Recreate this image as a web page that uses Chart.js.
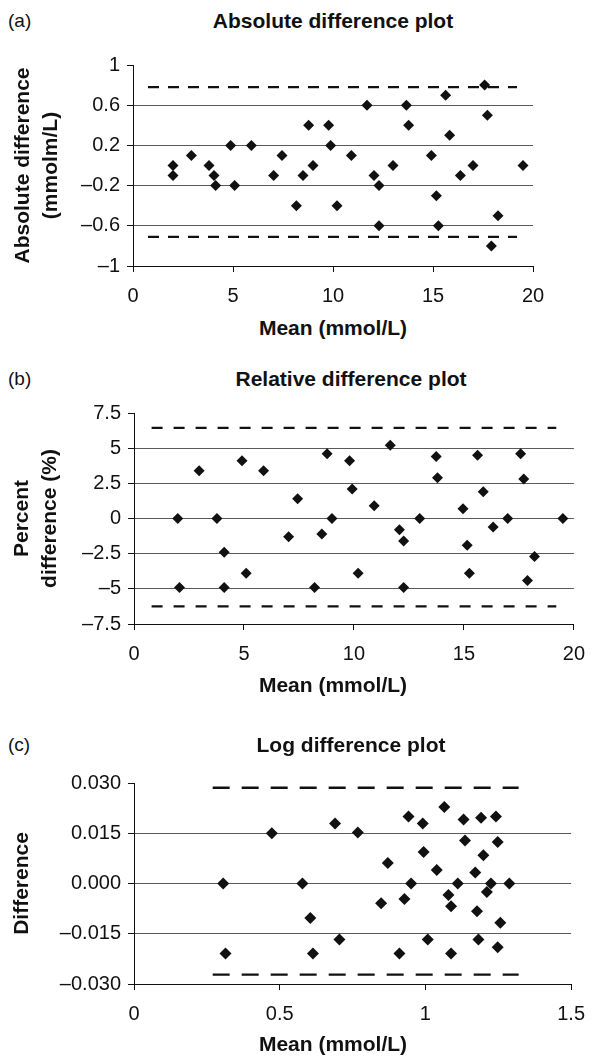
<!DOCTYPE html>
<html>
<head>
<meta charset="utf-8">
<script src="https://cdn.jsdelivr.net/npm/chart.js@4.4.0/dist/chart.umd.min.js"></script>
<style>
  body { margin: 0; background: #fff; width: 597px; height: 1056px; position: relative; overflow: hidden;
         font-family: "Liberation Sans", Arial, sans-serif; color: #111; }
  canvas { position: absolute; left: 0; }
  .tag { position: absolute; left: 8px; font-size: 19px; transform: translateY(-50%); }
  .ttl { position: absolute; font-size: 21px; font-weight: bold; white-space: nowrap; transform: translate(-50%, -50%); }
</style>
</head>
<body>

<div class="tag" style="top:21px">(a)</div>
<div class="ttl" style="top:21px;left:333px">Absolute difference plot</div>
<canvas id="absChart"></canvas>
<div class="ttl" style="top:328px;left:333px">Mean (mmol/L)</div>

<div class="tag" style="top:379px">(b)</div>
<div class="ttl" style="top:379px;left:351px">Relative difference plot</div>
<canvas id="relChart"></canvas>
<div class="ttl" style="top:685px;left:333px">Mean (mmol/L)</div>

<div class="tag" style="top:745px">(c)</div>
<div class="ttl" style="top:745px;left:351px">Log difference plot</div>
<canvas id="logChart"></canvas>
<div class="ttl" style="top:1044px;left:333px">Mean (mmol/L)</div>

<script>
// (a) absolute difference
const absMean = [2.0, 2.0, 2.92, 3.8, 4.05, 4.13, 4.88, 5.08, 5.92, 7.03, 7.45, 8.17, 8.5, 8.78, 9.0, 9.78, 9.88,
                 10.2, 10.92, 11.7, 12.05, 12.3, 12.3, 13.0, 13.67, 13.78, 14.92, 15.17, 15.27, 15.63, 15.83,
                 16.37, 17.0, 17.58, 17.72, 17.92, 18.25, 19.5];
const absDiff = [0.0, -0.1, 0.1, 0.0, -0.1, -0.2, 0.2, -0.2, 0.2, -0.1, 0.1, -0.4, -0.1, 0.4, 0.0, 0.4, 0.2,
                 -0.4, 0.1, 0.6, -0.1, -0.2, -0.6, 0.0, 0.6, 0.4, 0.1, -0.3, -0.6, 0.7, 0.3,
                 -0.1, 0.0, 0.8, 0.5, -0.8, -0.5, 0.0];
const absLimits = [0.78, -0.71];
const absLimitSpan = [0.75, 19.2];
const absYTicks = [-1, -0.6, -0.2, 0.2, 0.6, 1];
const absXTicks = [0, 5, 10, 15, 20];

// (b) relative difference
const relMean = [2.96, 4.91, 5.89, 8.78, 7.44, 1.99, 3.77, 9.0, 7.03, 8.54, 4.1, 5.1, 2.07, 4.1, 8.21,
                 9.8, 9.92, 10.92, 10.19, 11.65, 12.07, 12.26, 12.26, 12.99, 13.74, 13.8, 14.96, 15.15, 15.25,
                 15.62, 15.88, 16.33, 16.99, 17.58, 17.72, 18.21, 17.89, 19.5];
const relDiff = [3.4, 4.1, 3.4, 4.6, 1.4, 0, 0, 0, -1.3, -1.1, -2.4, -3.9, -4.9, -4.9, -4.9,
                 4.1, 2.1, 0.9, -3.9, 5.2, -0.8, -1.6, -4.9, 0, 4.4, 2.9, 0.7, -1.9, -3.9,
                 4.5, 1.9, -0.6, 0, 4.6, 2.8, -2.7, -4.4, 0];
const relLimits = [6.44, -6.25];
const relLimitSpan = [0.8, 19.2];
const relYTicks = [-7.5, -5, -2.5, 0, 2.5, 5, 7.5];
const relXTicks = [0, 5, 10, 15, 20];

// (c) log difference
const logMean = [0.306, 0.314, 0.473, 0.578, 0.605, 0.614, 0.69, 0.705, 0.768, 0.871, 0.848, 0.911, 0.928,
                 0.942, 0.951, 0.991, 0.994, 1.008, 1.039, 1.065, 1.079, 1.088, 1.088, 1.111, 1.131, 1.136,
                 1.171, 1.177, 1.182, 1.191, 1.199, 1.211, 1.225, 1.242, 1.248, 1.248, 1.257, 1.288];
const logDiff = [0, -0.0209, 0.015, 0, -0.0103, -0.0209, 0.0179, -0.0167, 0.0152, 0.0061, -0.0059, -0.0209, -0.0046,
                 0.0200, 0, 0.0179, 0.0094, -0.0167, 0.0040, 0.0228, -0.0034, -0.0068, -0.0209, 0, 0.0191, 0.0128,
                 0.0033, -0.0083, -0.0167, 0.0196, 0.0084, -0.0025, 0, 0.0200, 0.0124, -0.0190, -0.0117, 0];
const logLimits = [0.0286, -0.0272];
const logLimitSpan = [0.27, 1.32];
const logYTicks = [-0.03, -0.015, 0, 0.015, 0.03];
const logXTicks = [0, 0.5, 1, 1.5];

const INK = '#111';
const GRID = '#5a5a5a';
const FS = 20;

function fmt(v, digits) {
  const s = digits ? Math.abs(v).toFixed(digits) : String(Math.abs(v));
  return v < 0 ? '\u2013' + s : s;
}

function makePanel(id, box, d) {
  const padTop = 14;
  const xAxisH = 50;
  const canvas = document.getElementById(id);
  canvas.width = 597;
  canvas.height = Math.round(padTop + (box.bottom - box.top) + xAxisH);
  canvas.style.top = (box.top - padTop) + 'px';

  const points = d.mean.map((m, i) => ({ x: m, y: d.diff[i] }));
  const limitSets = d.limits.map(v => ({
    data: d.span.map(x => ({ x: x, y: v })),
    showLine: true, pointRadius: 0, borderColor: INK, borderWidth: 2.4, borderDash: box.dash,
    borderCapStyle: 'butt'
  }));
  const yMin = d.yTicks[0], yMax = d.yTicks[d.yTicks.length - 1];

  new Chart(canvas, {
    type: 'scatter',
    data: {
      datasets: [...limitSets, {
        data: points, pointStyle: 'rectRot', pointRadius: box.r, backgroundColor: INK, borderWidth: 0
      }]
    },
    options: {
      responsive: false, animation: false, devicePixelRatio: 1,
      layout: { padding: { top: padTop, left: 0, right: 597 - box.right, bottom: 0 } },
      plugins: { legend: { display: false }, tooltip: { enabled: false } },
      scales: {
        x: {
          type: 'linear', min: d.xTicks[0], max: d.xTicks[d.xTicks.length - 1],
          afterBuildTicks: s => { s.ticks = d.xTicks.map(v => ({ value: v })); },
          afterFit: s => { s.height = xAxisH; },
          grid: { drawOnChartArea: false, drawTicks: true, tickLength: 6, tickColor: INK },
          border: { color: INK, width: 1 },
          ticks: { color: INK, padding: 12, font: { family: 'Liberation Sans', size: FS },
                   callback: v => String(v) }
        },
        y: {
          type: 'linear', min: yMin, max: yMax,
          afterBuildTicks: s => { s.ticks = d.yTicks.map(v => ({ value: v })); },
          afterFit: s => { s.width = box.left; },
          grid: {
            drawTicks: true, tickLength: 6, tickColor: INK,
            color: c => (c.tick && c.tick.value === yMax) ? 'rgba(0,0,0,0)' : GRID
          },
          border: { color: INK, width: 1 },
          ticks: { color: INK, padding: 7, font: { family: 'Liberation Sans', size: FS },
                   callback: v => fmt(v, d.digits) },
          title: { display: true, text: d.yTitle, color: INK, padding: { top: box.yTitlePad, bottom: 0 },
                   font: { family: 'Liberation Sans', size: 21, weight: 'bold', lineHeight: 1.33 } }
        }
      }
    }
  });
}

makePanel('absChart',
  { top: 60, bottom: 266, left: 133, right: 533, yTitlePad: 9, dash: [11, 9], r: 5.5 },
  { mean: absMean, diff: absDiff, limits: absLimits, span: absLimitSpan, yTicks: absYTicks, xTicks: absXTicks,
    digits: 0, yTitle: ['Absolute difference', '(mmolm/L)'] });

makePanel('relChart',
  { top: 408, bottom: 624, left: 134, right: 583, yTitlePad: 8, dash: [11, 11], r: 5.5 },
  { mean: relMean, diff: relDiff, limits: relLimits, span: relLimitSpan, yTicks: relYTicks, xTicks: relXTicks,
    digits: 0, yTitle: ['Percent', 'difference (%)'] });

makePanel('logChart',
  { top: 778, bottom: 984, left: 134, right: 572, yTitlePad: 8, dash: [17, 12], r: 6 },
  { mean: logMean, diff: logDiff, limits: logLimits, span: logLimitSpan, yTicks: logYTicks, xTicks: logXTicks,
    digits: 3, yTitle: 'Difference' });
</script>
</body>
</html>
